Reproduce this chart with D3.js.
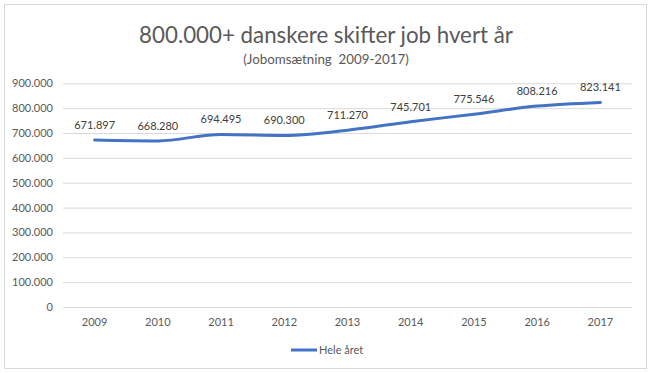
<!DOCTYPE html>
<html><head><meta charset="utf-8">
<script src="https://cdn.jsdelivr.net/npm/d3@7"></script>
<style>body{margin:0;background:#fff}svg{display:block}text{font-family:Lato,"Open Sans",sans-serif;white-space:pre}</style>
</head><body>
<script>
const years = ["2009","2010","2011","2012","2013","2014","2015","2016","2017"];
const values = [671897,668280,694495,690300,711270,745701,775546,808216,823141];
const yTicks = [0,100000,200000,300000,400000,500000,600000,700000,800000,900000];
const seriesName = "Hele året";
const title = "800.000+ danskere skifter job hvert år";
const subtitle = "(Jobomsætning  2009-2017)";

const W=654,H=373;
const svg=d3.select("body").append("svg").attr("width",W).attr("height",H);
svg.append("rect").attr("x",4.5).attr("y",4.5).attr("width",642).attr("height",364).attr("fill","#fff").attr("stroke","#d9d9d9");
const fmt = v => v===0 ? "0" : d3.format(",")(v).replace(/,/g,".");
const x=d3.scaleBand().domain(years).range([63,632]);
const y=d3.scaleLinear().domain([0,900000]).range([307,83.3]);

svg.append("text").attr("x",326).attr("y",43).attr("text-anchor","middle").attr("font-size",22.3).attr("fill","#595959").text(title);
svg.append("text").attr("x",326).attr("y",64).attr("text-anchor","middle").attr("font-size",13.3).attr("fill","#595959").text(subtitle);

const gy=svg.append("g").attr("transform","translate(63,0)").call(d3.axisLeft(y).tickValues(yTicks).tickFormat(fmt).tickSize(-569).tickPadding(10));
gy.select(".domain").remove();
gy.selectAll("line").attr("stroke","#d9d9d9");
gy.selectAll("text").attr("fill","#595959").attr("font-size",11).attr("font-family","Lato,'Open Sans',sans-serif");

const gx=svg.append("g").attr("transform","translate(0,307)").call(d3.axisBottom(x).tickSize(0).tickPadding(11));
gx.select(".domain").attr("stroke","#d9d9d9");
gx.selectAll("text").attr("fill","#595959").attr("font-size",11).attr("font-family","Lato,'Open Sans',sans-serif");

const cx=d=>x(d)+x.bandwidth()/2;
const line=d3.line().x((d,i)=>cx(years[i])).y(d=>y(d)).curve(d3.curveMonotoneX);
svg.append("path").datum(values).attr("d",line).attr("fill","none").attr("stroke","#4472C4").attr("stroke-width",3).attr("stroke-linecap","round");

svg.append("g").selectAll("text").data(values).join("text")
 .attr("x",(d,i)=>cx(years[i])).attr("y",d=>y(d)-11).attr("text-anchor","middle")
 .attr("font-size",11).attr("fill","#404040").text(fmt);

svg.append("line").attr("x1",291).attr("x2",317).attr("y1",350).attr("y2",350).attr("stroke","#4472C4").attr("stroke-width",3);
svg.append("text").attr("x",319).attr("y",354).attr("font-size",11).attr("fill","#595959").text(seriesName);
</script>
</body></html>
